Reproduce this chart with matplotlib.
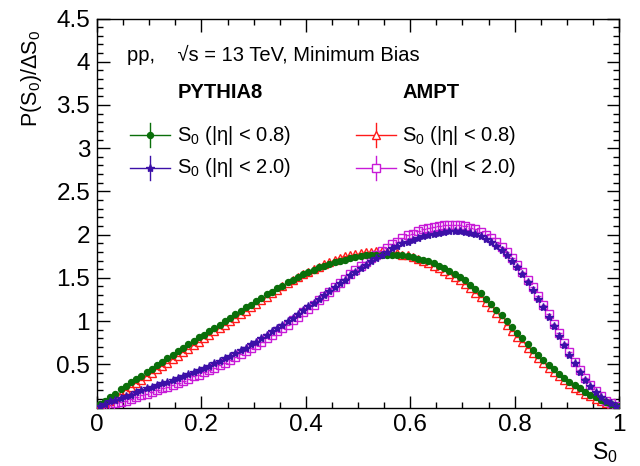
import numpy as np
import matplotlib
matplotlib.use("Agg")
import matplotlib.pyplot as plt
from matplotlib.ticker import MultipleLocator, FixedLocator

plt.rcParams['font.family'] = ['Liberation Sans', 'DejaVu Sans']
plt.rcParams['mathtext.fontset'] = 'custom'
plt.rcParams['mathtext.rm'] = 'Liberation Sans'
plt.rcParams['mathtext.it'] = 'Liberation Sans:italic'
plt.rcParams['mathtext.bf'] = 'Liberation Sans:bold'

# ---- binning (100 bins on [0,1]) ----
bin_edges = np.linspace(0.0, 1.0, 101)
s0_centers = 0.5 * (bin_edges[:-1] + bin_edges[1:])
half_width = 0.5 * (bin_edges[1] - bin_edges[0])

# ---- data ----
pythia_eta08 = [
    0.04, 0.08, 0.12, 0.16, 0.21, 0.25, 0.29, 0.33, 0.37, 0.41,
    0.45, 0.49, 0.53, 0.57, 0.61, 0.65, 0.69, 0.73, 0.77, 0.81,
    0.84, 0.88, 0.92, 0.96, 1.00, 1.04, 1.08, 1.12, 1.16, 1.19,
    1.23, 1.27, 1.31, 1.34, 1.38, 1.41, 1.45, 1.48, 1.51, 1.54,
    1.57, 1.59, 1.62, 1.64, 1.66, 1.68, 1.70, 1.71, 1.73, 1.74,
    1.75, 1.76, 1.76, 1.77, 1.77, 1.77, 1.77, 1.76, 1.76, 1.75,
    1.74, 1.72, 1.71, 1.69, 1.67, 1.64, 1.61, 1.58, 1.55, 1.51,
    1.47, 1.42, 1.37, 1.32, 1.26, 1.20, 1.13, 1.07, 1.00, 0.93,
    0.86, 0.80, 0.73, 0.67, 0.61, 0.55, 0.49, 0.44, 0.39, 0.34,
    0.30, 0.26, 0.22, 0.18, 0.15, 0.12, 0.09, 0.06, 0.04, 0.02,
]
pythia_eta20 = [
    0.02, 0.04, 0.07, 0.09, 0.11, 0.13, 0.15, 0.18, 0.20, 0.22,
    0.24, 0.26, 0.28, 0.30, 0.32, 0.34, 0.36, 0.39, 0.41, 0.43,
    0.46, 0.48, 0.51, 0.54, 0.57, 0.60, 0.63, 0.66, 0.69, 0.73,
    0.76, 0.80, 0.84, 0.88, 0.92, 0.96, 1.00, 1.04, 1.08, 1.13,
    1.17, 1.21, 1.26, 1.30, 1.35, 1.39, 1.44, 1.48, 1.53, 1.57,
    1.61, 1.65, 1.69, 1.73, 1.77, 1.80, 1.84, 1.87, 1.90, 1.92,
    1.94, 1.96, 1.98, 2.00, 2.01, 2.02, 2.03, 2.04, 2.04, 2.04,
    2.03, 2.02, 2.01, 1.98, 1.95, 1.92, 1.87, 1.82, 1.76, 1.69,
    1.62, 1.54, 1.45, 1.36, 1.26, 1.16, 1.05, 0.94, 0.83, 0.72,
    0.61, 0.51, 0.41, 0.32, 0.25, 0.18, 0.12, 0.08, 0.05, 0.02,
]
ampt_eta08 = [
    0.02, 0.05, 0.08, 0.12, 0.16, 0.20, 0.24, 0.28, 0.32, 0.36,
    0.40, 0.44, 0.48, 0.52, 0.56, 0.60, 0.64, 0.68, 0.72, 0.76,
    0.80, 0.84, 0.88, 0.92, 0.96, 1.00, 1.04, 1.08, 1.12, 1.16,
    1.20, 1.24, 1.28, 1.32, 1.36, 1.40, 1.44, 1.47, 1.51, 1.54,
    1.57, 1.60, 1.63, 1.66, 1.68, 1.71, 1.73, 1.75, 1.76, 1.78,
    1.79, 1.80, 1.80, 1.81, 1.81, 1.80, 1.80, 1.79, 1.77, 1.76,
    1.74, 1.72, 1.70, 1.67, 1.64, 1.61, 1.58, 1.54, 1.51, 1.47,
    1.43, 1.38, 1.33, 1.28, 1.22, 1.16, 1.09, 1.03, 0.96, 0.89,
    0.82, 0.76, 0.69, 0.63, 0.57, 0.51, 0.46, 0.41, 0.36, 0.32,
    0.27, 0.23, 0.20, 0.16, 0.13, 0.10, 0.07, 0.05, 0.03, 0.01,
]
ampt_eta20 = [
    0.01, 0.02, 0.03, 0.05, 0.06, 0.08, 0.10, 0.12, 0.14, 0.16,
    0.18, 0.20, 0.22, 0.24, 0.26, 0.28, 0.31, 0.33, 0.36, 0.38,
    0.41, 0.43, 0.46, 0.49, 0.52, 0.55, 0.58, 0.62, 0.65, 0.69,
    0.72, 0.76, 0.80, 0.84, 0.88, 0.92, 0.96, 1.01, 1.05, 1.10,
    1.14, 1.19, 1.24, 1.29, 1.34, 1.39, 1.44, 1.49, 1.54, 1.59,
    1.64, 1.68, 1.73, 1.77, 1.81, 1.85, 1.89, 1.92, 1.96, 1.99,
    2.01, 2.04, 2.06, 2.08, 2.09, 2.10, 2.11, 2.11, 2.11, 2.11,
    2.10, 2.08, 2.06, 2.03, 2.00, 1.96, 1.91, 1.86, 1.80, 1.73,
    1.65, 1.57, 1.48, 1.39, 1.29, 1.19, 1.08, 0.97, 0.86, 0.75,
    0.64, 0.53, 0.43, 0.34, 0.26, 0.19, 0.13, 0.08, 0.05, 0.02,
]

x_ticks = [0, 0.2, 0.4, 0.6, 0.8, 1.0]
x_ticklabels = ['0', '0.2', '0.4', '0.6', '0.8', '1']
y_ticks = [0.5, 1.0, 1.5, 2.0, 2.5, 3.0, 3.5, 4.0, 4.5]
y_ticklabels = ['0.5', '1', '1.5', '2', '2.5', '3', '3.5', '4', '4.5']

c_green = '#0a6f0a'
c_red = '#ff1a1a'
c_blue = '#3c10a8'
c_mag = '#c81ad8'

series = [
    # label, values, color, marker, ms, filled
    ('ampt08', ampt_eta08, c_red, '^', 6.2, False),
    ('ampt20', ampt_eta20, c_mag, 's', 6.0, False),
    ('py08', pythia_eta08, c_green, 'o', 4.3, True),
    ('py20', pythia_eta20, c_blue, '*', 6.0, True),
]

fig = plt.figure(figsize=(6.4, 4.66), dpi=100)
ax = fig.add_axes([0.1516, 0.1255, 0.8156, 0.8348])

for name, vals, col, mk, ms, filled in series:
    ax.errorbar(s0_centers, vals, xerr=half_width, fmt=mk, color=col,
                ms=ms, mfc=col if filled else 'none', mec=col, mew=1.0,
                elinewidth=1.0, capsize=0, zorder=3)

ax.set_xlim(0, 1)
ax.set_ylim(0, 4.5)
ax.xaxis.set_major_locator(FixedLocator(x_ticks))
ax.set_xticklabels(x_ticklabels)
ax.xaxis.set_minor_locator(MultipleLocator(0.05))
ax.yaxis.set_major_locator(FixedLocator(y_ticks))
ax.set_yticklabels(y_ticklabels)
ax.yaxis.set_minor_locator(MultipleLocator(0.1))
ax.tick_params(which='both', direction='in', top=True, right=True,
               labelsize=17.5, width=1.0, color='black')
ax.tick_params(which='major', length=9)
ax.tick_params(which='minor', length=4.5)
ax.tick_params(axis='x', pad=5)
ax.tick_params(axis='y', pad=5)
for sp in ax.spines.values():
    sp.set_linewidth(1.0)

# axis titles (ROOT style, aligned to axis ends)
fig.text(0.049, 0.935, r'P(S$_0$)/$\Delta$S$_0$', rotation=90,
         ha='center', va='top', fontsize=15.5)
fig.text(0.965, 0.002, r'S$_0$', ha='right', va='bottom', fontsize=16.5)

# annotation texts
ax.text(0.0575, 0.906, 'pp,    √s = 13 TeV, Minimum Bias', transform=ax.transAxes,
        ha='left', va='center', fontsize=14.5)
ax.text(0.155, 0.8085, 'PYTHIA8', transform=ax.transAxes, ha='left',
        va='center', fontsize=14.5, fontweight='bold')
ax.text(0.586, 0.8085, 'AMPT', transform=ax.transAxes, ha='left',
        va='center', fontsize=14.5, fontweight='bold')

# legend entries
leg_rows = [0.7005, 0.6157]
entries = [
    (0.1015, leg_rows[0], c_green, 'o', 4.3, True, r'S$_0$ (|η| < 0.8)'),
    (0.1015, leg_rows[1], c_blue, '*', 6.0, True, r'S$_0$ (|η| < 2.0)'),
    (0.534, leg_rows[0], c_red, '^', 6.2, False, r'S$_0$ (|η| < 0.8)'),
    (0.534, leg_rows[1], c_mag, 's', 6.0, False, r'S$_0$ (|η| < 2.0)'),
]
dx = 0.038
dy = 0.030
for xc, yc, col, mk, ms, filled, lab in entries:
    ax.plot([xc - dx, xc + dx], [yc, yc], color=col, lw=1.0,
            transform=ax.transAxes, clip_on=False)
    ax.plot([xc, xc], [yc - dy, yc + dy], color=col, lw=1.0,
            transform=ax.transAxes, clip_on=False)
    ax.plot([xc], [yc], marker=mk, ms=ms, color=col,
            mfc=col if filled else 'white', mec=col, mew=1.0,
            transform=ax.transAxes, clip_on=False)
    ax.text(xc + 0.051, yc, lab, transform=ax.transAxes, ha='left',
            va='center', fontsize=14.5)

fig.savefig('out.png', dpi=100)
